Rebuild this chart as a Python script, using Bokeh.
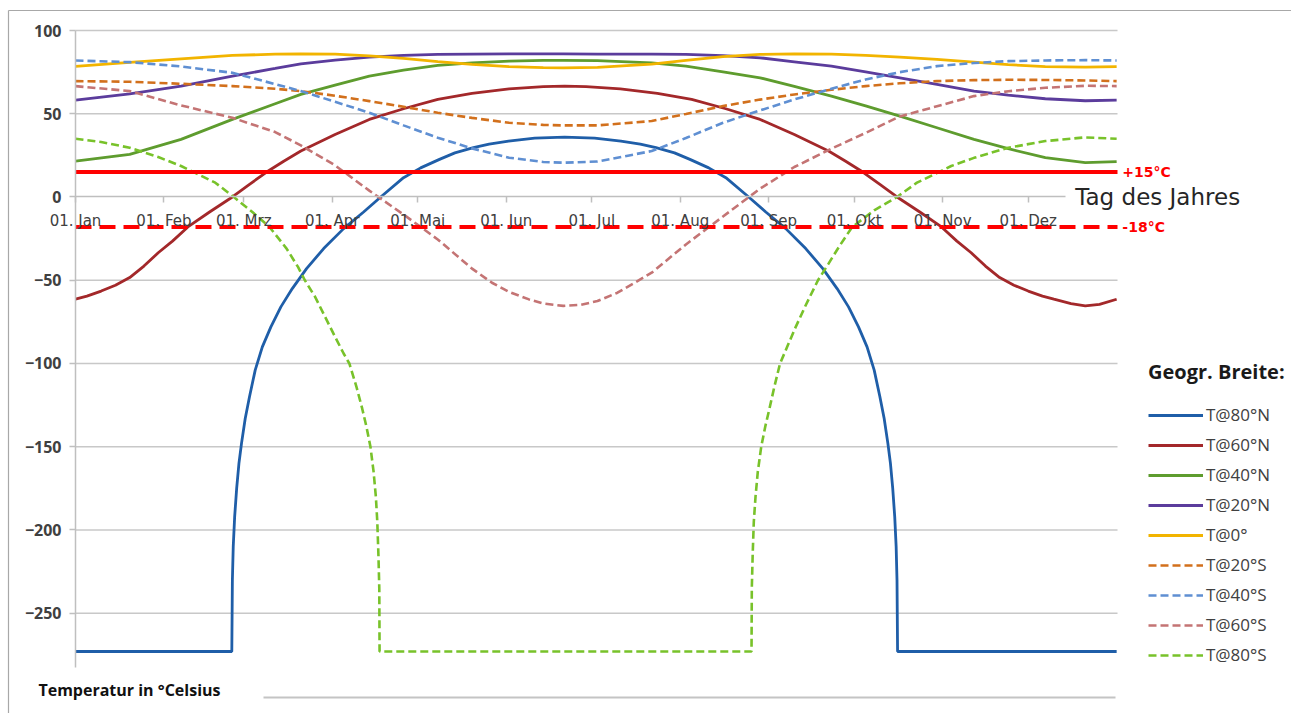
from bokeh.plotting import figure
from bokeh.models import Range1d, FixedTicker, Label
from bokeh.embed import file_html
from bokeh.resources import INLINE

# ---------------- data ----------------
month_days = [1, 32, 60, 91, 121, 152, 182, 213, 244, 274, 305, 335]
month_labels = ["01. Jan", "01. Feb", "01. Mrz", "01. Apr", "01. Mai", "01. Jun",
                "01. Jul", "01. Aug", "01. Sep", "01. Okt", "01. Nov", "01. Dez"]
y_ticks = [-250, -200, -150, -100, -50, 0, 50, 100]

days = [1, 20, 38, 56, 71, 80, 92, 104, 116, 128, 140, 153, 165, 172, 184,
        203, 215, 228, 241, 253, 266, 278, 290, 303, 316, 328, 341, 355, 366]

t_40n = [21.6, 25.6, 34.6, 46.6, 56.0, 61.6, 67.2, 72.6, 76.2, 79.0, 80.6, 81.6, 82.0, 82.0, 81.9,
         80.5, 78.6, 75.2, 71.6, 66.4, 60.6, 54.7, 48.6, 41.6, 34.6, 29.0, 23.6, 20.6, 21.2]
t_20n = [58.2, 62.0, 66.6, 72.6, 77.2, 80.0, 82.2, 84.0, 85.0, 85.6, 85.8, 86.0, 86.0, 86.0, 85.8,
         85.8, 85.6, 84.9, 83.6, 81.2, 78.6, 75.1, 71.6, 67.6, 63.6, 61.2, 59.0, 57.8, 58.2]
t_0 = [78.5, 80.8, 83.0, 85.0, 85.8, 86.0, 85.8, 84.8, 83.2, 81.3, 79.6, 78.3, 77.7, 77.5, 77.8,
       79.8, 82.0, 84.3, 85.6, 86.0, 85.8, 85.0, 84.0, 82.6, 81.0, 79.5, 78.3, 78.0, 78.3]
t_20s = [69.6, 69.2, 68.0, 66.6, 65.0, 63.6, 60.8, 57.6, 54.2, 50.6, 47.5, 44.6, 43.3, 43.0, 43.0,
         45.6, 49.9, 54.6, 58.5, 61.6, 64.4, 66.6, 68.3, 69.6, 70.2, 70.4, 70.3, 70.0, 69.6]
t_40s = [82.0, 81.0, 78.4, 74.6, 67.8, 63.6, 57.2, 50.6, 43.0, 35.6, 29.2, 23.6, 21.0, 20.6, 21.3,
         27.6, 35.4, 44.6, 52.0, 58.6, 65.0, 70.6, 75.0, 78.6, 80.5, 81.6, 82.0, 82.2, 82.0]

days_60s = [1, 20, 38, 56, 71, 80, 92, 104, 116, 128, 140, 147, 153, 160, 165, 172, 178, 184,
            191, 197, 203, 215, 228, 241, 253, 266, 278, 290, 303, 316, 328, 341, 355, 366]
t_60s = [66.6, 63.6, 55.0, 47.6, 39.0, 31.0, 19.0, 3.8, -10.5, -25.5, -43.0, -51.5, -57.0, -61.5,
         -64.0, -65.4, -64.8, -62.5, -57.5, -51.5, -45.5, -28.5, -11.7, 5.0, 18.0, 29.0, 38.5,
         48.4, 54.5, 60.6, 63.5, 65.6, 66.8, 66.6]

days_60n = [1, 5, 10, 15, 20, 25, 30, 35, 40.4, 48, 56, 62, 68, 74, 80, 92, 104, 116, 128, 140,
            153, 165, 172.5, 180, 192, 205, 217, 229, 241, 253, 265, 271, 277, 283, 289, 297,
            304.6, 310, 315, 320, 325, 330, 335, 340, 344, 350, 355, 360, 366]
t_60n = [-61.4, -59.5, -56.5, -53.0, -48.4, -41.5, -33.5, -26.5, -18.0, -9.0, 0.0, 7.6, 15.0,
         21.5, 27.6, 37.5, 46.6, 53.0, 58.6, 62.3, 65.0, 66.3, 66.6, 66.3, 65.0, 62.3, 58.6,
         53.0, 46.6, 37.5, 27.6, 21.5, 15.0, 7.6, 0.0, -9.0, -18.0, -26.5, -33.5, -41.5, -48.4,
         -53.0, -56.5, -59.5, -61.4, -64.0, -65.4, -64.5, -61.4]

days_80n = [1, 55.8, 56.0, 56.3, 56.8, 57.5, 58.3, 59.2, 60.5, 62.0, 64.0, 66.5, 69.5, 73, 77, 82,
            88, 95, 102, 108, 116, 122, 128.6, 134, 140.5, 146, 152.8, 162, 172.5,
            183, 192.2, 199, 204.5, 211, 216.4, 223, 229, 237, 243, 250, 257, 263, 268, 272,
            275.5, 278.5, 281, 283, 284.5, 285.8, 286.7, 287.5, 288.2, 288.7, 289.0, 289.2, 366]
t_80n = [-273, -273, -230, -210, -192, -175, -160, -148, -133, -120, -104, -90, -78, -66, -55, -43,
         -31, -19, -9, 0, 11.6, 17.5, 22.6, 26.5, 29.6, 31.8, 33.6, 35.4, 36.0,
         35.4, 33.6, 31.8, 29.6, 26.5, 22.6, 17.5, 11.6, 0, -9, -19, -31, -43, -55, -66,
         -78, -90, -104, -120, -133, -148, -160, -175, -192, -210, -230, -273, -273]

days_80s = [1, 10, 20, 30, 38, 45, 50, 56.5, 63, 69, 75, 79, 81.4, 85, 88.5, 92, 95, 97, 99.5,
            101.5, 103, 104.4, 105.5, 106.3, 106.8, 107.2, 107.5, 107.6,
            238.0, 238.1, 238.4, 238.8, 239.4, 240.2, 241.4, 242.8, 244.3, 246.0, 248.0, 250.5,
            253.5, 257.0, 261.3, 265, 269, 273.3, 281, 289, 296, 302, 308, 316, 328, 341, 355, 366]
t_80s = [35.0, 33.0, 29.6, 24.0, 18.6, 12.8, 8.6, 0, -9, -18, -31, -42, -50, -60, -72, -84, -94,
         -100, -114, -127, -138, -150, -165, -180, -195, -215, -235, -273,
         -273, -235, -215, -195, -180, -165, -150, -138, -127, -114, -100, -90,
         -78, -65, -50, -40, -29, -18, -8, 0, 8.6, 13.5, 18.6, 23.5, 29.6, 33.6, 35.8, 35.0]

ref_levels = [15, -18]
ref_labels = ["+15°C", "-18°C"]

series = [
    ("T@80°N", days_80n, t_80n, "#1F5EA8", None),
    ("T@60°N", days_60n, t_60n, "#A3282A", None),
    ("T@40°N", days, t_40n, "#5E9C2E", None),
    ("T@20°N", days, t_20n, "#5B3C9C", None),
    ("T@0°", days, t_0, "#F2B400", None),
    ("T@20°S", days, t_20s, "#D2701C", "8 4"),
    ("T@40°S", days, t_40s, "#5F8FD2", "8 4"),
    ("T@60°S", days_60s, t_60s, "#C47474", "8 4"),
    ("T@80°S", days_80s, t_80s, "#78C22A", "8 4"),
]

# ---------------- layout geometry (pixels of the page) ----------------
W, H = 1291, 713
plot_left_px, plot_top_px = 75, 30          # where day 1 / 100 °C sit
px_per_day = 1042 / 365.3
px_per_deg = 637 / 382.6
x0 = 1 - plot_left_px / px_per_day
x1 = x0 + W / px_per_day
y1 = 100 + plot_top_px / px_per_deg
y0 = y1 - H / px_per_deg
day_end = 366.3
y_bottom = -282.6


def px_x(px):
    return x0 + px / px_per_day


def px_y(py):
    return y1 - py / px_per_deg


p = figure(frame_width=W, frame_height=H,
           x_range=Range1d(x0, x1), y_range=Range1d(y0, y1),
           output_backend="svg", toolbar_location=None,
           min_border=0, min_border_left=0, min_border_right=0,
           min_border_top=0, min_border_bottom=0)
p.outline_line_color = None
p.background_fill_color = "white"
p.border_fill_color = "white"
p.xgrid.visible = False
p.ygrid.visible = False

# page box around the chart (as in the screenshot)
p.segment(x0=[px_x(8), px_x(8)], y0=[px_y(10), px_y(10)],
          x1=[px_x(8), px_x(1291)], y1=[px_y(713), px_y(10)],
          line_color="#A8A8A8", line_width=1.2)
p.segment(x0=[px_x(263)], y0=[px_y(697)], x1=[px_x(1115)], y1=[px_y(697)],
          line_color="#C4C4C4", line_width=2)

# horizontal grid lines (not at 0, where the axis sits)
grid_vals = [t for t in y_ticks if t != 0]
p.segment(x0=[1] * len(grid_vals), x1=[day_end] * len(grid_vals), y0=grid_vals, y1=grid_vals,
          line_color="#C8C8C8", line_width=1.6)

# x axis sitting at 0 °C
xa = p.xaxis[0]
xa.fixed_location = 0
xa.ticker = FixedTicker(ticks=month_days)
xa.major_label_overrides = {d: l for d, l in zip(month_days, month_labels)}
xa.bounds = (1, 348)
xa.axis_line_color = "#BFBFBF"
xa.axis_line_width = 1.5
xa.major_tick_line_color = "#BFBFBF"
xa.major_tick_line_width = 1.5
xa.major_tick_out = 6
xa.major_tick_in = 0
xa.minor_tick_line_color = None
xa.major_label_standoff = 9
xa.major_label_text_font = "DejaVu Sans"
xa.major_label_text_font_size = "15px"
xa.major_label_text_color = "#404040"

ya = p.yaxis[0]
ya.fixed_location = 1
ya.bounds = (y_bottom, 100)
ya.ticker = FixedTicker(ticks=y_ticks)
ya.axis_line_color = "#BFBFBF"
ya.axis_line_width = 1.5
ya.major_tick_line_color = "#BFBFBF"
ya.major_tick_line_width = 1.5
ya.major_tick_out = 6
ya.major_tick_in = 0
ya.minor_tick_line_color = None
ya.major_label_standoff = 8
ya.major_label_text_font = "Open Sans"
ya.major_label_text_font_style = "bold"
ya.major_label_text_font_size = "16px"
ya.major_label_text_color = "#404040"

for name, xs, ys, col, dash in series:
    kw = dict(line_color=col, line_width=2.8, legend_label=name)
    if dash:
        kw["line_dash"] = dash
        kw["line_width"] = 2.6
    p.line(xs, ys, **kw)

# reference temperature lines
p.segment(x0=[1], x1=[day_end], y0=[ref_levels[0]], y1=[ref_levels[0]],
          line_color="#FF0000", line_width=4)
p.segment(x0=[1], x1=[day_end], y0=[ref_levels[1]], y1=[ref_levels[1]],
          line_color="#FF0000", line_width=4, line_dash="16 8")
for lvl, txt in zip(ref_levels, ref_labels):
    p.add_layout(Label(x=368, y=lvl, text=txt, text_baseline="middle", text_align="left",
                       text_color="#FF0000", text_font="DejaVu Sans", text_font_style="bold",
                       text_font_size="14px"))

p.add_layout(Label(x=351.5, y=0, text="Tag des Jahres", text_baseline="middle",
                   text_align="left", text_color="#262626", text_font="DejaVu Sans",
                   text_font_size="23px"))
p.add_layout(Label(x=-12, y=-296.4, text="Temperatur in °Celsius", text_baseline="middle",
                   text_align="left", text_color="#111111", text_font="Open Sans",
                   text_font_style="bold", text_font_size="16px"))

lg = p.legend[0]
lg.location = (1148, 47)
lg.title = "Geogr. Breite:"
lg.title_text_font = "Open Sans"
lg.title_text_font_style = "bold"
lg.title_text_font_size = "20px"
lg.title_text_color = "#1a1a1a"
lg.title_standoff = 18
lg.label_text_font = "Open Sans"
lg.label_text_font_size = "17px"
lg.label_text_color = "#404040"
lg.glyph_width = 55
lg.glyph_height = 20
lg.label_height = 20
lg.label_standoff = 3
lg.spacing = 7
lg.padding = 0
lg.margin = 0
lg.border_line_color = None
lg.background_fill_alpha = 0

open("out.html", "w").write(file_html(p, INLINE))
